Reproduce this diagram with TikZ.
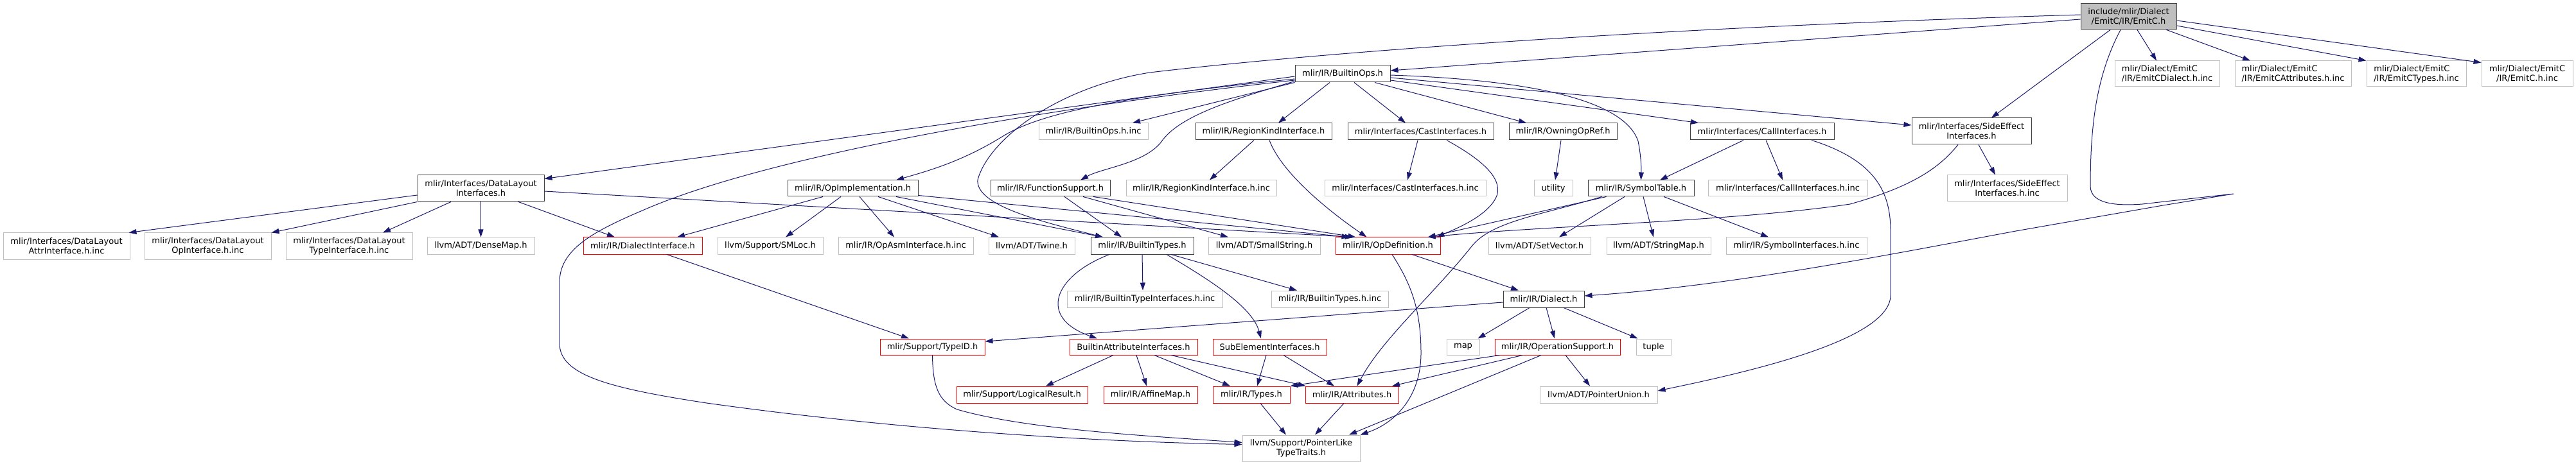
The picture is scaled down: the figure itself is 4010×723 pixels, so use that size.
\documentclass[tikz,border=0pt]{standalone}
\usepackage{fontspec}
\setmainfont{DejaVu Sans}
\usetikzlibrary{arrows.meta,calc}
\definecolor{edgec}{HTML}{191970}
\definecolor{nodeblk}{HTML}{404040}
\definecolor{nodegry}{HTML}{BFBFBF}
\definecolor{nodered}{HTML}{FF0000}
\newcommand{\gnode}[7]{%
  \pgfmathsetmacro{\gnw}{(#5-#3)*0.75}%
  \pgfmathsetmacro{\gnh}{(#6-#4)*0.75}%
  \node[#1,minimum width=\gnw pt,minimum height=\gnh pt] (#2) at ({(#3+#5)/2},{(#4+#6)/2}) {#7};%
}
\tikzset{
  gbase/.style={rectangle, inner sep=0pt, line width=0.75pt, font=\fontsize{9.75}{11.25}\selectfont, align=center, fill=white, text=black},
  blk/.style={gbase, draw=nodeblk},
  gry/.style={gbase, draw=nodegry},
  trunc/.style={gbase, draw=nodered},
  rootn/.style={gbase, draw=nodeblk, fill=nodegry},
  lft/.style={align=left},
  dep/.style={draw=edgec, line width=0.75pt, -{Triangle[length=9pt,width=6pt]}},
}
\begin{document}
\begin{tikzpicture}[x=0.75pt,y=-0.75pt]
\useasboundingbox (0,0) rectangle (4010,723);
% rank 0
\gnode{rootn}{root}{3239}{6}{3388}{46}{include/mlir/Dialect\\/EmitC/IR/EmitC.h}
% rank 1
\gnode{blk}{bops}{2016}{102}{2164}{128}{mlir/IR/BuiltinOps.h}
\gnode{gry,lft}{ecd}{3292}{95}{3455}{135}{mlir/Dialect/EmitC\\/IR/EmitCDialect.h.inc}
\gnode{gry,lft}{eca}{3479}{95}{3660}{135}{mlir/Dialect/EmitC\\/IR/EmitCAttributes.h.inc}
\gnode{gry,lft}{ect}{3684}{95}{3839}{135}{mlir/Dialect/EmitC\\/IR/EmitCTypes.h.inc}
\gnode{gry}{ech}{3863}{95}{4005}{135}{mlir/Dialect/EmitC\\/IR/EmitC.h.inc}
% rank 2
\gnode{gry}{boinc}{1617}{192}{1787}{218}{mlir/IR/BuiltinOps.h.inc}
\gnode{blk}{rki}{1861}{192}{2073}{218}{mlir/IR/RegionKindInterface.h}
\gnode{blk}{cast}{2098}{192}{2325}{218}{mlir/Interfaces/CastInterfaces.h}
\gnode{blk}{owning}{2349}{192}{2517}{218}{mlir/IR/OwningOpRef.h}
\gnode{blk}{call}{2631}{192}{2855}{218}{mlir/Interfaces/CallInterfaces.h}
\gnode{blk}{side}{2976}{184}{3162}{225}{mlir/Interfaces/SideEffect\\Interfaces.h}
% rank 3
\gnode{blk}{dl}{650}{273}{847}{314}{mlir/Interfaces/DataLayout\\Interfaces.h}
\gnode{blk}{opimpl}{1226}{281}{1429}{306}{mlir/IR/OpImplementation.h}
\gnode{blk}{func}{1542}{281}{1728}{306}{mlir/IR/FunctionSupport.h}
\gnode{gry}{rkinc}{1753}{281}{1987}{306}{mlir/IR/RegionKindInterface.h.inc}
\gnode{gry}{castinc}{2062}{281}{2313}{306}{mlir/Interfaces/CastInterfaces.h.inc}
\gnode{gry}{utility}{2388}{281}{2448}{306}{utility}
\gnode{blk}{symtab}{2472}{281}{2637}{306}{mlir/IR/SymbolTable.h}
\gnode{gry}{callinc}{2659}{281}{2907}{306}{mlir/Interfaces/CallInterfaces.h.inc}
\gnode{gry}{sideinc}{3031}{273}{3218}{314}{mlir/Interfaces/SideEffect\\Interfaces.h.inc}
% rank 4
\gnode{gry}{dla}{5}{363}{202}{404}{mlir/Interfaces/DataLayout\\AttrInterface.h.inc}
\gnode{gry}{dlo}{225}{363}{422}{404}{mlir/Interfaces/DataLayout\\OpInterface.h.inc}
\gnode{gry}{dlt}{445}{363}{642}{404}{mlir/Interfaces/DataLayout\\TypeInterface.h.inc}
\gnode{gry}{dense}{665}{370}{832}{396}{llvm/ADT/DenseMap.h}
\gnode{trunc}{diaif}{908}{370}{1093}{396}{mlir/IR/DialectInterface.h}
\gnode{gry}{smloc}{1117}{370}{1281}{396}{llvm/Support/SMLoc.h}
\gnode{gry}{opasm}{1305}{370}{1515}{396}{mlir/IR/OpAsmInterface.h.inc}
\gnode{gry}{twine}{1539}{370}{1673}{396}{llvm/ADT/Twine.h}
\gnode{blk}{btypes}{1698}{370}{1858}{396}{mlir/IR/BuiltinTypes.h}
\gnode{gry}{smallstr}{1881}{370}{2055}{396}{llvm/ADT/SmallString.h}
\gnode{trunc}{opdef}{2079}{370}{2242}{396}{mlir/IR/OpDefinition.h}
\gnode{gry}{setvec}{2317}{370}{2476}{396}{llvm/ADT/SetVector.h}
\gnode{gry}{strmap}{2501}{370}{2663}{396}{llvm/ADT/StringMap.h}
\gnode{gry}{syminc}{2687}{370}{2906}{396}{mlir/IR/SymbolInterfaces.h.inc}
% rank 5
\gnode{gry}{btiinc}{1661}{453}{1903}{479}{mlir/IR/BuiltinTypeInterfaces.h.inc}
\gnode{gry}{btinc}{1979}{453}{2161}{479}{mlir/IR/BuiltinTypes.h.inc}
\gnode{blk}{dialect}{2340}{453}{2466}{479}{mlir/IR/Dialect.h}
% rank 6
\gnode{trunc}{typeid}{1370}{528}{1533}{553}{mlir/Support/TypeID.h}
\gnode{trunc}{bai}{1665}{528}{1864}{553}{BuiltinAttributeInterfaces.h}
\gnode{trunc}{subel}{1888}{528}{2065}{553}{SubElementInterfaces.h}
\gnode{gry}{map}{2252}{528}{2303}{553}{map}
\gnode{trunc}{opsup}{2327}{528}{2522}{553}{mlir/IR/OperationSupport.h}
\gnode{gry}{tuple}{2547}{528}{2601}{553}{tuple}
% rank 7
\gnode{trunc}{logres}{1489}{602}{1693}{628}{mlir/Support/LogicalResult.h}
\gnode{trunc}{affine}{1718}{602}{1864}{628}{mlir/IR/AffineMap.h}
\gnode{trunc}{types}{1888}{602}{2008}{628}{mlir/IR/Types.h}
\gnode{trunc}{attrs}{2032}{602}{2177}{628}{mlir/IR/Attributes.h}
\gnode{gry}{ptrunion}{2397}{602}{2580}{628}{llvm/ADT/PointerUnion.h}
% rank 8
\gnode{gry}{ptrlike}{1934}{678}{2117}{719}{llvm/Support/PointerLike\\TypeTraits.h}

% ---- edges from root
\draw[dep] ($(root.west)+(0,4)$) -- ($(bops.east)+(0,-5)$);
\draw[dep] ($(root.west)+(0,-3)$) .. controls (2500,45) and (2000,88) .. (1790,113) .. controls (1650,135) and (1540,215) .. (1522,280) .. controls (1518,320) and (1620,345) .. ($(btypes.north)+(-61,0)$);
\draw[dep] ($(root.south)+(-28.5,0)$) -- ($(side.north)+(31,0)$);
\draw[dep] ($(root.south)+(-12.5,0)$) .. controls (3262,120) and (3254,200) .. (3254,290) .. controls (3254,318) and (3295,321) .. (3335,318) -- (3477,302) -- (3367,320) -- (3138,360) .. controls (2950,395) and (2700,445) .. ($(dialect.east)+(0,-5)$);
\draw[dep] ($(root.south)+(13.5,0)$) -- ($(ecd.north)+(-16.5,0)$);
\draw[dep] ($(root.south east)+(-16,0)$) -- ($(eca.north)+(-66.5,0)$);
\draw[dep] ($(root.east)+(0,14)$) -- (ect.north west);
\draw[dep] ($(root.east)+(0,6)$) -- ($(ech.north west)+(0,3)$);
% ---- BuiltinOps
\draw[dep] ($(bops.west)+(0,4)$) -- ($(dl.north east)+(0,6)$);
\draw[dep] ($(bops.west)+(0,8)$) .. controls (1750,150) and (1620,175) .. (1560,213) .. controls (1500,250) and (1450,265) .. ($(opimpl.north)+(67.5,0)$);
\draw[dep] ($(bops.west)+(0,10)$) .. controls (1650,165) and (1200,240) .. (1000,328) .. controls (920,362) and (871,390) .. (871,440) -- (871,535) .. controls (871,585) and (950,605) .. (1100,628) .. controls (1400,670) and (1700,688) .. ($(ptrlike.west)+(0,-6)$);
\draw[dep] (bops.south west) -- ($(boinc.north)+(61,0)$);
\draw[dep] ($(bops.south west)+(0,-2)$) .. controls (1920,155) and (1835,180) .. (1807,222) .. controls (1780,255) and (1715,262) .. ($(func.north)+(47,0)$);
\draw[dep] ($(bops.south)+(-20,0)$) -- ($(rki.north)+(23,0)$);
\draw[dep] ($(bops.south)+(18,0)$) -- ($(cast.north)+(-23.5,0)$);
\draw[dep] ($(bops.south)+(50,0)$) -- ($(owning.north)+(-57,0)$);
\draw[dep] ($(bops.east)+(0,10)$) -- ($(call.north)+(-99,0)$);
\draw[dep] ($(bops.east)+(0,6)$) -- ($(side.west)+(0,-9.5)$);
\draw[dep] ($(bops.east)+(0,2)$) .. controls (2400,125) and (2530,160) .. (2550,220) .. controls (2555,245) and (2555,265) .. (symtab.north);
% ---- rank 2 sources
\draw[dep] ($(rki.south)+(-15,0)$) -- ($(rkinc.north)+(13,0)$);
\draw[dep] ($(rki.south)+(9,0)$) .. controls (1995,270) and (2070,330) .. ($(opdef.north)+(-33,0)$);
\draw[dep] ($(cast.south)+(-4.5,0)$) -- ($(castinc.north)+(3.5,0)$);
\draw[dep] ($(cast.south)+(40.5,0)$) .. controls (2300,245) and (2340,275) .. (2330,305) .. controls (2318,335) and (2270,355) .. ($(opdef.north)+(76,0)$);
\draw[dep] ($(owning.south)+(-3,0)$) -- ($(utility.north)+(3,0)$);
\draw[dep] ($(call.south)+(-29,0)$) -- ($(symtab.north)+(29.5,0)$);
\draw[dep] ($(call.south)+(6,0)$) -- ($(callinc.north)+(-8,0)$);
\draw[dep] ($(call.south)+(77,0)$) .. controls (2920,250) and (2943,300) .. (2943,360) -- (2943,460) .. controls (2943,530) and (2720,580) .. ($(ptrunion.east)+(0,-6)$);
\draw[dep] ($(side.south)+(11,0)$) -- ($(sideinc.north)+(-18.5,0)$);
\draw[dep] ($(side.south)+(-21,0)$) .. controls (3020,260) and (2980,290) .. (2880,318) .. controls (2700,345) and (2400,352) .. ($(opdef.north)+(62,0)$);
% ---- SymbolTable
\draw[dep] ($(symtab.south west)+(29,0)$) -- ($(opdef.north)+(62,0)$);
\draw[dep] ($(symtab.south west)+(22,0)$) .. controls (2400,335) and (2320,345) .. (2290,385) .. controls (2230,460) and (2150,530) .. ($(attrs.north)+(8,0)$);
\draw[dep] ($(symtab.south)+(-25.5,0)$) -- ($(setvec.north)+(30.5,0)$);
\draw[dep] ($(symtab.south)+(3.5,0)$) -- ($(strmap.north)+(-8,0)$);
\draw[dep] ($(symtab.south)+(35.5,0)$) -- ($(syminc.north)+(-43.5,0)$);
% ---- DataLayout
\draw[dep] ($(dl.west)+(0,10.5)$) -- ($(dla.north east)+(-2,0)$);
\draw[dep] (dl.south west) -- (dlo.north east);
\draw[dep] ($(dl.south)+(-46.5,0)$) -- ($(dlt.north)+(52.5,0)$);
\draw[dep] (dl.south) -- (dense.north);
\draw[dep] ($(dl.south)+(58.5,0)$) -- ($(diaif.north)+(-43.5,0)$);
\draw[dep] ($(dl.east)+(0,4.5)$) -- ($(opdef.north)+(-55,0)$);
% ---- OpImplementation
\draw[dep] ($(opimpl.south)+(-46.5,0)$) -- ($(diaif.north)+(53.5,0)$);
\draw[dep] ($(opimpl.south)+(-18.5,0)$) -- ($(smloc.north)+(24,0)$);
\draw[dep] ($(opimpl.south)+(10.5,0)$) -- ($(opasm.north)+(-18,0)$);
\draw[dep] ($(opimpl.south)+(39.5,0)$) -- ($(twine.north)+(-51,0)$);
\draw[dep] ($(opimpl.south)+(67.5,0)$) -- ($(btypes.north)+(-61,0)$);
\draw[dep] ($(opimpl.south east)+(0,-2)$) -- ($(opdef.north)+(-60,0)$);
% ---- FunctionSupport
\draw[dep] ($(func.south)+(22,0)$) -- ($(btypes.north)+(-32,0)$);
\draw[dep] ($(func.south)+(51,0)$) -- ($(smallstr.north)+(-56,0)$);
\draw[dep] ($(func.south)+(67,0)$) -- ($(opdef.north)+(-50,0)$);
% ---- BuiltinTypes
\draw[dep] ($(btypes.south)+(-51,0)$) .. controls (1640,430) and (1615,495) .. ($(bai.north)+(-56.5,0)$);
\draw[dep] (btypes.south) -- ($(btiinc.north)+(-3,0)$);
\draw[dep] ($(btypes.south)+(38,0)$) .. controls (1890,440) and (1950,480) .. ($(subel.north)+(-13.5,0)$);
\draw[dep] ($(btypes.south)+(45,0)$) -- ($(btinc.north)+(-51,0)$);
% ---- OpDefinition
\draw[dep] ($(opdef.south)+(37.5,0)$) -- ($(dialect.north)+(-39,0)$);
\draw[dep] ($(opdef.south)+(6.5,0)$) .. controls (2195,440) and (2212,480) .. (2212,550) .. controls (2212,620) and (2170,660) .. (ptrlike.north east);
% ---- Dialect
\draw[dep] ($(dialect.west)+(0,5)$) -- ($(typeid.east)+(0,-8.5)$);
\draw[dep] ($(dialect.south)+(-22,0)$) -- ($(map.north east)+(-3,0)$);
\draw[dep] ($(dialect.south)+(4,0)$) -- ($(opsup.north)+(-4.5,0)$);
\draw[dep] ($(dialect.south)+(31,0)$) -- ($(tuple.north west)+(3,0)$);
% ---- DialectInterface, TypeID
\draw[dep] ($(diaif.south)+(37.5,0)$) -- ($(typeid.north)+(-36.5,0)$);
\draw[dep] (typeid.south) .. controls (1452,600) and (1460,625) .. (1490,638) .. controls (1600,670) and (1800,680) .. ($(ptrlike.west)+(0,-9)$);
% ---- BuiltinAttributeInterfaces
\draw[dep] ($(bai.south)+(-31.5,0)$) -- ($(logres.north)+(37,0)$);
\draw[dep] ($(bai.south)+(4.5,0)$) -- ($(affine.north)+(-6,0)$);
\draw[dep] ($(bai.south)+(32.5,0)$) -- ($(types.north)+(-33,0)$);
\draw[dep] ($(bai.south)+(58.5,0)$) -- ($(attrs.north west)+(1,0)$);
% ---- SubElementInterfaces
\draw[dep] ($(subel.south)+(-5.5,0)$) -- ($(types.north)+(9,0)$);
\draw[dep] ($(subel.south)+(21.5,0)$) -- ($(attrs.north)+(-27.5,0)$);
% ---- OperationSupport
\draw[dep] ($(opsup.south west)+(8,0)$) -- (types.north east);
\draw[dep] ($(opsup.south)+(-54.5,0)$) -- ($(attrs.north)+(62.5,0)$);
\draw[dep] ($(opsup.south)+(-25.5,0)$) -- ($(ptrlike.north)+(74.5,0)$);
\draw[dep] ($(opsup.south)+(12.5,0)$) -- ($(ptrunion.north)+(-13.5,0)$);
% ---- Types, Attributes
\draw[dep] ($(types.south)+(14,0)$) -- ($(ptrlike.north)+(-23.5,0)$);
\draw[dep] ($(attrs.south)+(-12.5,0)$) -- ($(ptrlike.north)+(21.5,0)$);
\end{tikzpicture}
\end{document}
